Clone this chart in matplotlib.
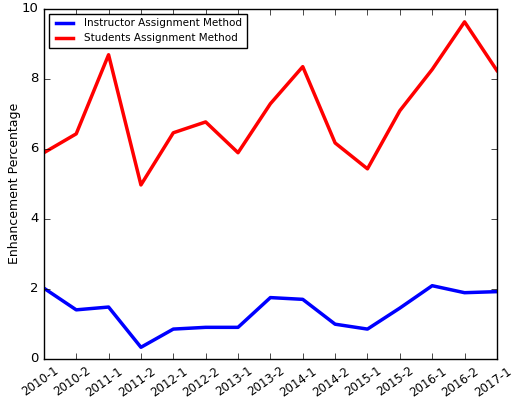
import matplotlib
matplotlib.use('Agg')
import matplotlib.pyplot as plt
from matplotlib.transforms import ScaledTranslation

plt.style.use('classic')

terms = ['2010-1', '2010-2', '2011-1', '2011-2', '2012-1', '2012-2', '2013-1', '2013-2',
         '2014-1', '2014-2', '2015-1', '2015-2', '2016-1', '2016-2', '2017-1']
instructor = [2.02, 1.40, 1.48, 0.33, 0.85, 0.90, 0.90, 1.75, 1.70, 0.99, 0.85, 1.45, 2.09, 1.89, 1.92]
students = [5.89, 6.43, 8.69, 4.97, 6.46, 6.77, 5.89, 7.29, 8.35, 6.17, 5.43, 7.09, 8.27, 9.63, 8.24]

fig = plt.figure(figsize=(5.16, 4.05), dpi=100, facecolor='white')
ax = fig.add_axes([0.085, 0.114, 0.878, 0.864])

x = range(len(terms))
ax.plot(x, instructor, color='blue', linewidth=2.5, label='Instructor Assignment Method')
ax.plot(x, students, color='red', linewidth=2.5, label='Students Assignment Method')

ax.set_xlim(0, len(terms) - 1)
ax.set_ylim(0, 10)
ax.set_xticks(list(x))
ax.set_xticklabels(terms, rotation=35, fontsize=8.5)
# nudge labels a little left so the last one stays inside the figure
shift = ScaledTranslation(-3 / 72, 0, fig.dpi_scale_trans)
for lbl in ax.get_xticklabels():
    lbl.set_transform(lbl.get_transform() + shift)
ax.tick_params(axis='y', labelsize=9.5)
ax.set_ylabel('Enhancement Percentage', fontsize=9)
ax.yaxis.set_label_coords(-0.05, 0.5)
ax.legend(loc='upper left', fontsize=7.5, handlelength=2.2)

fig.savefig('out.png', dpi=100, facecolor='white')
